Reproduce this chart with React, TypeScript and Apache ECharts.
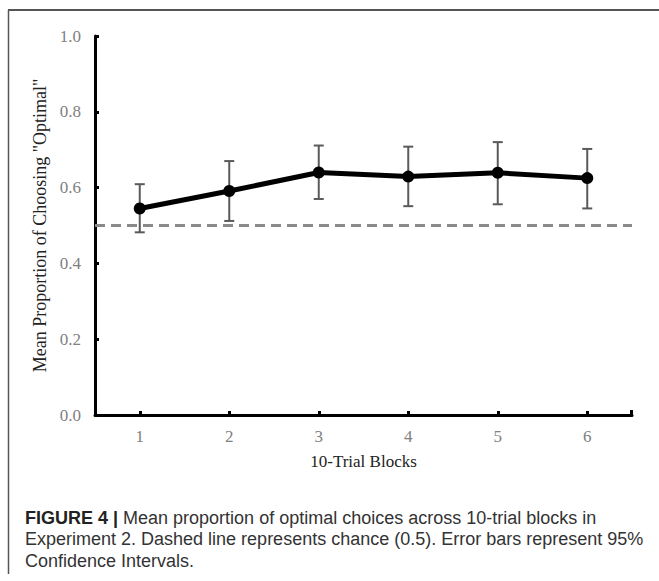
import React, { useEffect, useRef } from "react";
import * as echarts from "echarts";

const categories = ["1", "2", "3", "4", "5", "6"];
const means = [0.545, 0.591, 0.64, 0.629, 0.639, 0.625];
const ciLow = [0.482, 0.512, 0.57, 0.551, 0.556, 0.545];
const ciHigh = [0.609, 0.67, 0.711, 0.708, 0.72, 0.702];
const chanceLevel = 0.5;
const yAxisTitle = 'Mean Proportion of Choosing "Optimal"';
const xAxisTitle = "10-Trial Blocks";
const captionBold = "FIGURE 4 |";
const captionLines = [
  " Mean proportion of optimal choices across 10-trial blocks in",
  "Experiment 2. Dashed line represents chance (0.5). Error bars represent 95%",
  "Confidence Intervals.",
];

const SERIF = '"Liberation Serif", "DejaVu Serif", serif';
const SANS = '"Liberation Sans", Arial, sans-serif';

export default function App() {
  const ref = useRef<HTMLDivElement>(null);
  useEffect(() => {
    if (!ref.current) return;
    const chart = echarts.init(ref.current, null, { renderer: "svg" });
    const errData = categories.map((_, i) => [i, ciLow[i], ciHigh[i]]);
    chart.setOption({
      animation: false,
      backgroundColor: "#fff",
      grid: { left: 95, right: 27, top: 36, bottom: 166, containLabel: false },
      xAxis: {
        type: "category",
        data: categories,
        boundaryGap: true,
        name: xAxisTitle,
        nameLocation: "middle",
        nameGap: 38,
        nameTextStyle: { fontFamily: SERIF, fontSize: 17, color: "#222" },
        axisLine: { lineStyle: { color: "#000", width: 3 } },
        axisTick: { show: true, alignWithLabel: true, inside: true, length: 4, lineStyle: { color: "#000", width: 3 } },
        axisLabel: { fontFamily: SERIF, fontSize: 17, color: "#808080", margin: 13 },
        splitLine: { show: false },
      },
      yAxis: {
        type: "value",
        min: 0,
        max: 1,
        interval: 0.2,
        name: yAxisTitle,
        nameLocation: "middle",
        nameGap: 46,
        nameRotate: 90,
        nameTextStyle: { fontFamily: SERIF, fontSize: 18, color: "#222" },
        axisLine: { show: true, lineStyle: { color: "#000", width: 3 } },
        axisTick: { show: true, inside: true, length: 4, lineStyle: { color: "#000", width: 3 } },
        axisLabel: {
          fontFamily: SERIF,
          fontSize: 17,
          color: "#808080",
          margin: 14,
          formatter: (v: number) => v.toFixed(1),
        },
        splitLine: { show: false },
      },
      series: [
        {
          type: "custom",
          z: 2,
          data: errData,
          encode: { x: 0, y: [1, 2] },
          renderItem: (params: any, api: any) => {
            const x = api.value(0);
            const lo = api.coord([x, api.value(1)]);
            const hi = api.coord([x, api.value(2)]);
            const w = 5;
            const style = { stroke: "#5a5a5a", lineWidth: 2 };
            return {
              type: "group",
              children: [
                { type: "line", shape: { x1: lo[0], y1: lo[1], x2: hi[0], y2: hi[1] }, style },
                { type: "line", shape: { x1: hi[0] - w, y1: hi[1], x2: hi[0] + w, y2: hi[1] }, style },
                { type: "line", shape: { x1: lo[0] - w, y1: lo[1], x2: lo[0] + w, y2: lo[1] }, style },
              ],
            };
          },
        },
        {
          type: "line",
          z: 3,
          data: means,
          symbol: "circle",
          symbolSize: 12,
          itemStyle: { color: "#000" },
          lineStyle: { color: "#000", width: 5 },
          markLine: {
            silent: true,
            symbol: "none",
            label: { show: false },
            lineStyle: { color: "#8a8a8a", width: 3, type: [10, 6] },
            data: [{ yAxis: chanceLevel }],
          },
        },
      ],
      graphic: [
        { type: "line", shape: { x1: 8.5, y1: 10, x2: 8.5, y2: 574 }, style: { stroke: "#555", lineWidth: 1.5 } },
        { type: "line", shape: { x1: 8, y1: 10, x2: 659, y2: 10 }, style: { stroke: "#555", lineWidth: 2 } },
        { type: "rect", shape: { x: 630, y: 410, width: 3, height: 5 }, style: { fill: "#000" } },
        {
          type: "text",
          left: 25,
          top: 507,
          style: {
            text: "{b|" + captionBold + "}" + captionLines.join("\n"),
            font: "18px " + SANS,
            fill: "#333",
            lineHeight: 21.5,
            rich: {
              b: { fontWeight: "bold", fontSize: 18, fontFamily: SANS, fill: "#222", lineHeight: 21.5 },
            },
          },
        },
      ],
    });
    return () => chart.dispose();
  }, []);
  return <div ref={ref} style={{ position: "absolute", left: 0, top: 0, width: 659, height: 581 }} />;
}
